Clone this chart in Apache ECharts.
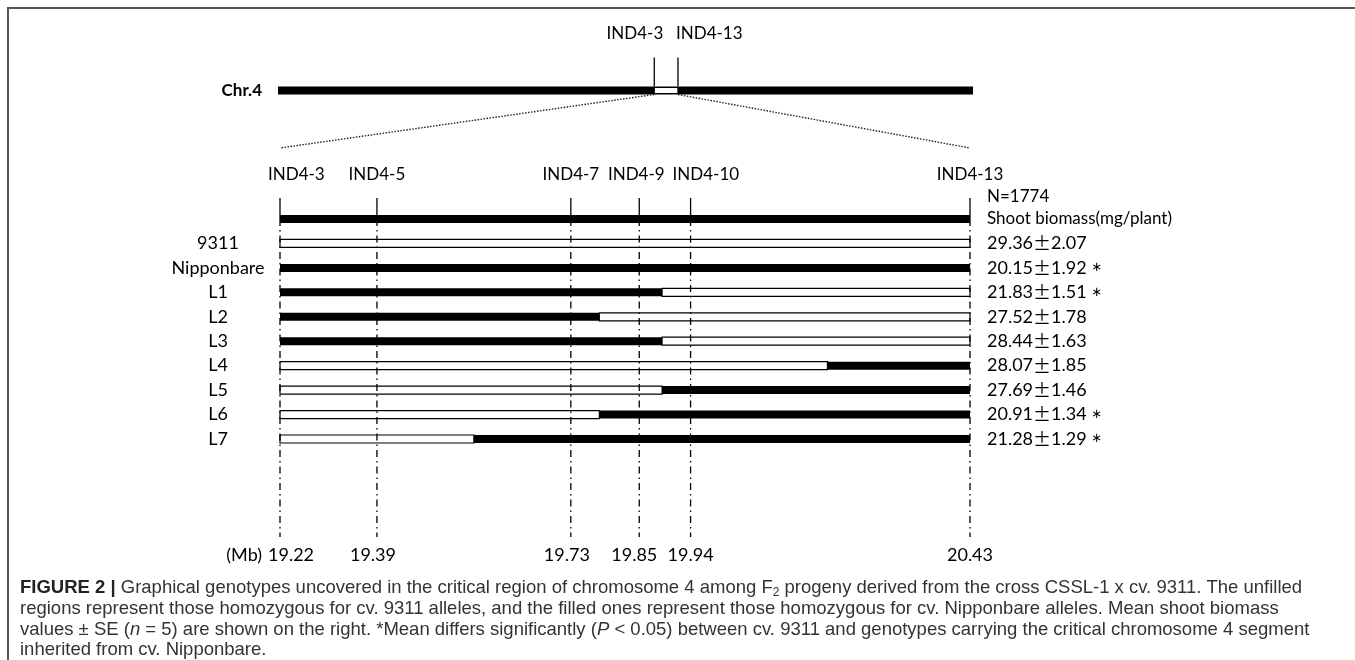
<!DOCTYPE html>
<html><head><meta charset="utf-8">
<script src="https://cdn.jsdelivr.net/npm/echarts@6/dist/echarts.min.js"></script>
<style>html,body{margin:0;padding:0;background:#fff}#c{width:1355px;height:660px}</style>
</head><body><div id="c"></div>
<script>
// ---------- data ----------
const rows = ['', '9311', 'Nipponbare', 'L1', 'L2', 'L3', 'L4', 'L5', 'L6', 'L7'];
const biomassMean = [null, 29.36, 20.15, 21.83, 27.52, 28.44, 28.07, 27.69, 20.91, 21.28];
const biomassSE   = [null, 2.07, 1.92, 1.51, 1.78, 1.63, 1.85, 1.46, 1.34, 1.29];
const significant = [false, false, true, true, false, false, false, false, true, true];
const markerNames = ['IND4-3', 'IND4-5', 'IND4-7', 'IND4-9', 'IND4-10', 'IND4-13'];
const markerMb    = [19.22, 19.39, 19.73, 19.85, 19.94, 20.43];
// allele on the left part of each row: 'N' = Nipponbare (filled), '9' = 9311 (unfilled)
const leftAllele  = ['N', '9', 'N', 'N', 'N', 'N', '9', '9', '9', '9'];
// recombination breakpoint (Mb); null = no breakpoint
const breakMb     = [null, null, null, 19.89, 19.78, 19.89, 20.18, 19.89, 19.78, 19.56];
const chrLengthMb = 35.5;
const sampleSize  = 1774;
const regionStart = markerMb[0], regionEnd = markerMb[markerMb.length - 1];

// ---------- build segments ----------
const segments = [];
rows.forEach((r, i) => {
  const f = leftAllele[i] === 'N' ? 1 : 0;
  if (breakMb[i] == null) segments.push([regionStart, regionEnd, i, f]);
  else {
    segments.push([regionStart, breakMb[i], i, f]);
    segments.push([breakMb[i], regionEnd, i, 1 - f]);
  }
});

const FONT = 'Lato, "Noto Sans", sans-serif';
const chart = echarts.init(document.getElementById('c'), null, {renderer: 'canvas'});

function renderSeg(params, api) {
  const s = api.value(0), e = api.value(1), r = api.value(2), filled = api.value(3);
  const p0 = api.coord([s, r]), p1 = api.coord([e, r]);
  const h = 8;
  return {
    type: 'rect',
    shape: {x: p0[0], y: p0[1] - h / 2, width: p1[0] - p0[0], height: h},
    style: filled ? {fill: '#000'} : {fill: '#fff', stroke: '#000', lineWidth: 1.2}
  };
}

function renderMarker(params, api) {
  const i = params.dataIndex;
  const m = api.value(0);
  const pTop = api.coord([m, 0]);
  const pBot = api.coord([m, rows.length - 1]);
  const x = pTop[0];
  let align = 'center', dx = 0;
  if (i === 0) { align = 'left'; dx = -12; }
  if (i === 4) { align = 'left'; dx = -18; }
  if (i === 3) { dx = -3; }
  let balign = 'center', bdx = 0;
  if (i === 0) { balign = 'left'; bdx = -12; }
  if (i === 3) { bdx = -5; }
  if (i === 1 || i === 2) { bdx = -4; }
  const kids = [
    {type: 'line', shape: {x1: x, y1: pTop[1] - 21, x2: x, y2: pTop[1]},
     style: {stroke: '#000', lineWidth: 1.3}},
    {type: 'line', shape: {x1: x, y1: pTop[1], x2: x, y2: pBot[1] + 98},
     style: {stroke: '#000', lineWidth: 1.3, lineDash: [7, 4, 1.5, 4]}},
    {type: 'text', x: x + dx, y: pTop[1] - 44,
     style: {text: markerNames[i], fill: '#000', font: '17px ' + FONT, align: align, verticalAlign: 'middle'}},
    {type: 'text', x: x + bdx, y: pBot[1] + 116,
     style: {text: markerMb[i].toFixed(2), fill: '#000', font: '18px ' + FONT, align: balign, verticalAlign: 'middle'}}
  ];
  if (i === 0) {
    kids.push({type: 'text', x: x - 18, y: pBot[1] + 116,
      style: {text: '(Mb)', fill: '#000', font: '18px ' + FONT, align: 'right', verticalAlign: 'middle'}});
  }
  if (i === markerMb.length - 1) {
    kids.push({type: 'text', x: x + 17, y: pTop[1] - 22,
      style: {text: 'N=' + sampleSize, fill: '#000', font: '17px ' + FONT, align: 'left', verticalAlign: 'middle'}});
  }
  return {type: 'group', children: kids};
}

function renderChr(params, api) {
  const p0 = api.coord([0, 0]), p1 = api.coord([chrLengthMb, 0]);
  const a = api.coord([regionStart, 0]), b = api.coord([regionEnd, 0]);
  const y = p0[1], h = 8;
  return {type: 'group', children: [
    {type: 'rect', shape: {x: p0[0], y: y - h / 2, width: p1[0] - p0[0], height: h}, style: {fill: '#000'}},
    {type: 'rect', shape: {x: a[0], y: y - h / 2 + 1, width: b[0] - a[0], height: h - 2},
     style: {fill: '#fff', stroke: '#000', lineWidth: 1.2}},
    {type: 'line', shape: {x1: a[0], y1: y - h / 2, x2: a[0], y2: y - 33}, style: {stroke: '#000', lineWidth: 1.3}},
    {type: 'line', shape: {x1: b[0], y1: y - h / 2, x2: b[0], y2: y - 33}, style: {stroke: '#000', lineWidth: 1.3}},
    {type: 'text', x: a[0] + 9, y: y - 57,
     style: {text: markerNames[0], fill: '#000', font: '17px ' + FONT, align: 'right', verticalAlign: 'middle'}},
    {type: 'text', x: b[0] - 2, y: y - 57,
     style: {text: markerNames[markerNames.length - 1], fill: '#000', font: '17px ' + FONT, align: 'left', verticalAlign: 'middle'}}
  ]};
}

const rightLabels = rows.map((r, i) => i === 0 ? '{s|Shoot biomass(mg/plant)}' :
  biomassMean[i].toFixed(2) + '{pm|±}' + biomassSE[i].toFixed(2) + (significant[i] ? ' {ast|∗}' : ''));

const option = {
  animation: false,
  backgroundColor: '#fff',
  grid: [
    {left: 280, right: 385, top: 219, height: 220},
    {left: 278, right: 382, top: 80, height: 21}
  ],
  xAxis: [
    {type: 'value', gridIndex: 0, min: regionStart, max: regionEnd, show: false},
    {type: 'value', gridIndex: 1, min: 0, max: chrLengthMb, show: false}
  ],
  yAxis: [
    {type: 'category', gridIndex: 0, data: rows, inverse: true, boundaryGap: false,
     axisLine: {show: false}, axisTick: {show: false}, splitLine: {show: false},
     axisLabel: {show: true, align: 'center', margin: 62, color: '#000', fontSize: 18, fontFamily: FONT}},
    {type: 'category', gridIndex: 0, data: rightLabels, inverse: true, boundaryGap: false, position: 'right',
     axisLine: {show: false}, axisTick: {show: false}, splitLine: {show: false},
     axisLabel: {show: true, align: 'left', margin: 17, color: '#000', fontSize: 18, fontFamily: FONT,
       rich: {pm: {fontFamily: '"Noto Sans CJK SC"', fontSize: 18, color: '#000'},
              s: {fontFamily: FONT, fontSize: 17, color: '#000'},
              ast: {fontFamily: 'DejaVu Sans', fontSize: 13, color: '#000'}}}},
    {type: 'category', gridIndex: 1, data: ['Chr.4'],
     axisLine: {show: false}, axisTick: {show: false}, splitLine: {show: false},
     axisLabel: {show: true, align: 'right', margin: 16, color: '#000', fontSize: 17, fontWeight: 'bold', fontFamily: FONT}}
  ],
  series: [
    {type: 'custom', name: 'chromosome', xAxisIndex: 1, yAxisIndex: 2, renderItem: renderChr,
     data: [[0, 0]], encode: {x: 0, y: 1}, silent: true, z: 2},
    {type: 'custom', name: 'genotypes', xAxisIndex: 0, yAxisIndex: 0, renderItem: renderSeg,
     data: segments, encode: {x: [0, 1], y: 2}, silent: true, z: 2},
    {type: 'custom', name: 'markers', xAxisIndex: 0, yAxisIndex: 0, renderItem: renderMarker,
     data: markerMb.map((m, i) => [m, i]), encode: {x: 0, y: 1}, silent: true, z: 3}
  ]
};
chart.setOption(option);

// connector dotted lines and caption
const capFont = '"Liberation Sans", Arial, sans-serif';
const cA = chart.convertToPixel({xAxisIndex: 1, yAxisIndex: 2}, [regionStart, 0]);
const cB = chart.convertToPixel({xAxisIndex: 1, yAxisIndex: 2}, [regionEnd, 0]);
const zA = chart.convertToPixel({xAxisIndex: 0, yAxisIndex: 0}, [regionStart, 0]);
const zB = chart.convertToPixel({xAxisIndex: 0, yAxisIndex: 0}, [regionEnd, 0]);
const capLines = [
  '{b|FIGURE 2 |} Graphical genotypes uncovered in the critical region of chromosome 4 among F{sub|2} progeny derived from the cross CSSL-1 x cv. 9311. The unfilled',
  'regions represent those homozygous for cv. 9311 alleles, and the filled ones represent those homozygous for cv. Nipponbare alleles. Mean shoot biomass',
  'values ± SE ({i|n} = 5) are shown on the right. *Mean differs significantly ({i|P} < 0.05) between cv. 9311 and genotypes carrying the critical chromosome 4 segment',
  'inherited from cv. Nipponbare.'
];
const capY = [588, 609, 630, 650];
const CS = 18.5;
const graphics = [
  {type: 'rect', shape: {x: 8, y: 8, width: 1400, height: 700}, style: {fill: 'none', stroke: '#555', lineWidth: 2}, silent: true},
  {type: 'line', shape: {x1: cA[0], y1: cA[1] + 4, x2: zA[0], y2: zA[1] - 71}, style: {stroke: '#222', lineWidth: 1.4, lineDash: [1.5, 1.5]}},
  {type: 'line', shape: {x1: cB[0], y1: cB[1] + 4, x2: zB[0], y2: zB[1] - 71}, style: {stroke: '#222', lineWidth: 1.4, lineDash: [1.5, 1.5]}}
];
capLines.forEach((t, k) => {
  graphics.push({type: 'text', x: 20, y: capY[k], silent: true,
    style: {text: t, fill: '#333', font: CS + 'px ' + capFont, verticalAlign: 'middle',
      rich: {b: {fontWeight: 'bold', fontSize: CS, fontFamily: capFont, fill: '#222'},
             i: {fontStyle: 'italic', fontSize: CS, fontFamily: capFont},
             sub: {fontSize: 12, fontFamily: capFont, verticalAlign: 'bottom', padding: [10, 0, 0, 0]}}}});
});
chart.setOption({graphic: graphics});
</script>
</body></html>
